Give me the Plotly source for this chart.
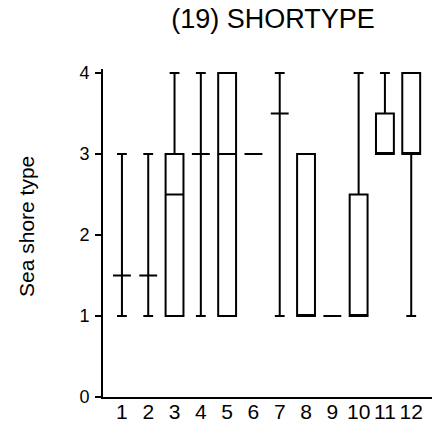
import plotly.graph_objects as go

# Box-plot summary of sea shore type for each of the 12 groups
groups = [1, 2, 3, 4, 5, 6, 7, 8, 9, 10, 11, 12]
tick_labels = ["1", "2", "3", "4", "5", "6", "7", "8", "9", "10", "11", "12"]
lower_whisker = [1, 1, 1, 1, 1, 3, 1, 1, 1, 1, 3, 1]
quartile_1 = [1.5, 1.5, 1, 3, 1, 3, 3.5, 1, 1, 1, 3, 3]
medians = [1.5, 1.5, 2.5, 3, 3, 3, 3.5, 1, 1, 1, 3, 3]
quartile_3 = [1.5, 1.5, 3, 3, 4, 3, 3.5, 3, 1, 2.5, 3.5, 4]
upper_whisker = [3, 3, 4, 4, 4, 3, 4, 3, 1, 4, 4, 4]
y_ticks = [0, 1, 2, 3, 4]

W, H = 432, 422
M_L, M_R, M_T, M_B = 103, 0, 69, 25
plot_w = W - M_L - M_R
plot_h = H - M_T - M_B

fig = go.Figure()
fig.add_trace(go.Box(
    x=groups,
    q1=quartile_1,
    median=medians,
    q3=quartile_3,
    lowerfence=lower_whisker,
    upperfence=upper_whisker,
    width=0.68,
    whiskerwidth=0.55,
    boxpoints=False,
    fillcolor="white",
    line=dict(color="black", width=2),
    hoverinfo="skip",
    showlegend=False,
))

fig.update_layout(
    width=W,
    height=H,
    margin=dict(l=M_L, r=M_R, t=M_T, b=M_B, autoexpand=False),
    paper_bgcolor="white",
    plot_bgcolor="white",
    font=dict(family="Arial, Liberation Sans, sans-serif", color="black"),
    title=dict(
        text="(19) SHORTYPE",
        font=dict(size=27, color="black"),
        x=(273 - M_L) / plot_w, xref="paper", xanchor="center",
        y=1 - 19 / H, yref="container", yanchor="middle",
    ),
    xaxis=dict(
        range=[0.28, 12.79],
        tickmode="array",
        tickvals=groups,
        ticktext=tick_labels,
        tickfont=dict(size=21),
        showgrid=False,
        zeroline=False,
        showline=True,
        linecolor="black",
        linewidth=2,
        ticks="",
        ticklabelstandoff=-5,
        automargin=False,
        fixedrange=True,
    ),
    yaxis=dict(
        range=[0, 4.05],
        tickmode="array",
        tickvals=y_ticks,
        tickfont=dict(size=18),
        showgrid=False,
        zeroline=False,
        showline=True,
        linecolor="black",
        linewidth=2,
        ticks="outside",
        ticklen=6,
        tickwidth=1.5,
        tickcolor="black",
        ticklabelstandoff=2,
        automargin=False,
        fixedrange=True,
    ),
    annotations=[dict(
        text="Sea shore type",
        textangle=-90,
        xref="paper", x=(26 - M_L) / plot_w, xanchor="center",
        yref="paper", y=(H - M_B - 227) / plot_h, yanchor="middle",
        showarrow=False,
        font=dict(size=21, color="black"),
    )],
)

fig.write_html("out.html")
